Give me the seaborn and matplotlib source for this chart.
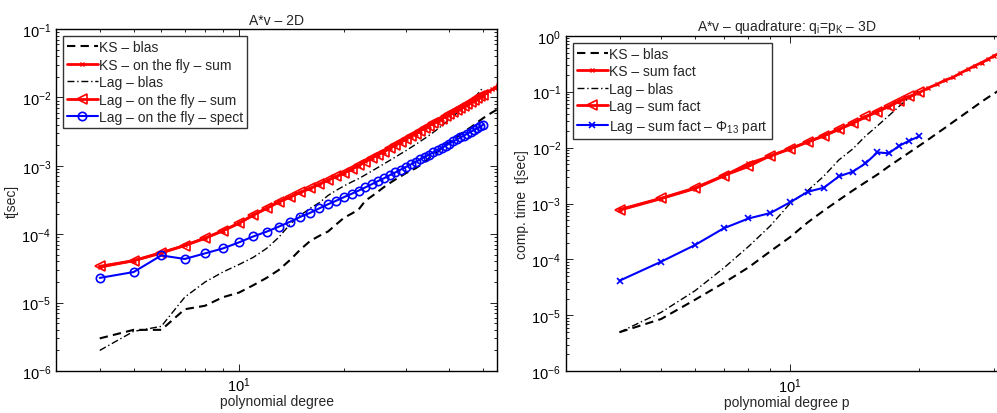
import numpy as np
import matplotlib
matplotlib.use("Agg")
import matplotlib.pyplot as plt
import matplotlib.ticker as mticker
import seaborn as sns

# --- left panel: A*v - 2D ---
deg_2d = list(range(4, 56))
ks_blas_2d = [3.0e-6, 4.0e-6, 4.0e-6, 8.0e-6, 9.0e-6, 1.2e-5, 1.4e-5, 1.8e-5, 2.3e-5, 3.0e-5,
              4.2e-5, 6.0e-5, 8.0e-5, 9.5e-5, 1.1e-4, 1.4e-4, 1.75e-4, 2.0e-4, 2.3e-4, 3.1e-4,
              3.6e-4, 4.2e-4, 4.9e-4, 5.6e-4, 6.3e-4, 7.0e-4, 7.8e-4, 8.5e-4, 9.2e-4, 1.02e-3,
              1.15e-3, 1.3e-3, 1.45e-3, 1.62e-3, 1.8e-3, 2.0e-3, 2.2e-3, 2.4e-3, 2.65e-3, 2.9e-3,
              3.15e-3, 3.4e-3, 3.65e-3, 3.95e-3, 4.3e-3, 4.65e-3, 5.0e-3, 5.35e-3, 5.7e-3, 6.05e-3,
              6.4e-3, 6.8e-3]
ks_fly_2d = [3.3e-5, 4.1e-5, 5.3e-5, 6.9e-5, 8.7e-5, 1.13e-4, 1.44e-4, 1.92e-4, 2.38e-4, 2.97e-4,
             3.48e-4, 4.12e-4, 4.68e-4, 5.42e-4, 6.18e-4, 7.03e-4, 7.88e-4, 8.93e-4, 1.01e-3, 1.16e-3,
             1.29e-3, 1.46e-3, 1.61e-3, 1.81e-3, 1.99e-3, 2.21e-3, 2.44e-3, 2.71e-3, 2.94e-3, 3.26e-3,
             3.54e-3, 3.87e-3, 4.18e-3, 4.57e-3, 4.88e-3, 5.32e-3, 5.68e-3, 6.12e-3, 6.58e-3, 7.12e-3,
             7.58e-3, 8.13e-3, 8.58e-3, 9.22e-3, 9.78e-3, 1.04e-2, 1.1e-2, 1.17e-2, 1.24e-2, 1.31e-2,
             1.39e-2, 1.5e-2]
deg_lag_2d = list(range(4, 51))
lag_blas_2d = [2.0e-6, 3.8e-6, 4.5e-6, 1.2e-5, 2.0e-5, 2.8e-5, 3.6e-5, 4.6e-5, 6.2e-5, 9.0e-5,
               1.4e-4, 1.9e-4, 2.4e-4, 2.9e-4, 3.7e-4, 4.4e-4, 5.1e-4, 5.8e-4, 6.5e-4, 7.4e-4,
               8.4e-4, 9.5e-4, 1.07e-3, 1.2e-3, 1.34e-3, 1.5e-3, 1.66e-3, 1.85e-3, 2.05e-3, 2.28e-3,
               2.52e-3, 2.8e-3, 3.1e-3, 3.45e-3, 3.85e-3, 4.3e-3, 4.8e-3, 5.3e-3, 5.9e-3, 6.5e-3,
               7.2e-3, 8.0e-3, 8.9e-3, 9.9e-3, 1.1e-2, 1.25e-2, 1.42e-2]
lag_fly_2d = [3.4e-5, 4.1e-5, 5.4e-5, 6.8e-5, 8.8e-5, 1.12e-4, 1.45e-4, 1.9e-4, 2.4e-4, 2.95e-4,
              3.5e-4, 4.1e-4, 4.7e-4, 5.4e-4, 6.2e-4, 7.0e-4, 7.9e-4, 8.9e-4, 1.02e-3, 1.15e-3,
              1.3e-3, 1.45e-3, 1.62e-3, 1.8e-3, 2.0e-3, 2.2e-3, 2.45e-3, 2.7e-3, 2.95e-3, 3.25e-3,
              3.55e-3, 3.85e-3, 4.2e-3, 4.55e-3, 4.9e-3, 5.3e-3, 5.7e-3, 6.1e-3, 6.6e-3, 7.1e-3,
              7.6e-3, 8.1e-3, 8.6e-3, 9.2e-3, 9.8e-3, 1.04e-2, 1.1e-2]
lag_spect_2d = [2.3e-5, 2.8e-5, 4.9e-5, 4.35e-5, 5.25e-5, 6.2e-5, 7.6e-5, 9.3e-5, 1.09e-4, 1.29e-4,
                1.52e-4, 1.8e-4, 2.06e-4, 2.4e-4, 2.75e-4, 3.1e-4, 3.5e-4, 3.9e-4, 4.35e-4, 4.85e-4,
                5.4e-4, 6.0e-4, 6.6e-4, 7.3e-4, 8.0e-4, 8.8e-4, 9.6e-4, 1.05e-3, 1.14e-3, 1.24e-3,
                1.35e-3, 1.46e-3, 1.58e-3, 1.7e-3, 1.83e-3, 1.97e-3, 2.12e-3, 2.27e-3, 2.43e-3, 2.6e-3,
                2.77e-3, 2.95e-3, 3.14e-3, 3.34e-3, 3.55e-3, 3.77e-3, 4.0e-3]

# --- right panel: A*v - quadrature - 3D ---
deg_3d = list(range(4, 33))
ks_blas_3d = [5.0e-6, 8.6e-6, 1.9e-5, 3.8e-5, 7.2e-5, 1.4e-4, 2.5e-4, 4.6e-4, 7.5e-4, 1.15e-3,
              1.7e-3, 2.4e-3, 3.3e-3, 4.6e-3, 6.2e-3, 8.2e-3, 1.07e-2, 1.38e-2, 1.78e-2, 2.25e-2,
              2.85e-2, 3.55e-2, 4.4e-2, 5.4e-2, 6.6e-2, 7.9e-2, 9.3e-2, 1.1e-1, 1.3e-1]
ks_sum_3d = [7.6e-4, 1.22e-3, 1.85e-3, 3.1e-3, 5.2e-3, 7.0e-3, 9.6e-3, 1.25e-2, 1.62e-2, 2.1e-2,
             2.7e-2, 3.5e-2, 4.4e-2, 5.4e-2, 6.7e-2, 8.0e-2, 9.6e-2, 0.116, 0.135, 0.16,
             0.18, 0.215, 0.25, 0.29, 0.33, 0.38, 0.44, 0.5, 0.57]
deg_lag_3d = list(range(4, 21))
lag_blas_3d = [5.0e-6, 1.13e-5, 2.75e-5, 7.0e-5, 1.7e-4, 4.0e-4, 1.0e-3, 1.7e-3, 3.1e-3, 6.0e-3,
               9.4e-3, 1.6e-2, 2.45e-2, 3.7e-2, 5.5e-2, 7.9e-2, 0.104]
lag_sum_3d = [7.8e-4, 1.24e-3, 1.9e-3, 3.15e-3, 4.6e-3, 7.2e-3, 9.4e-3, 1.27e-2, 1.63e-2, 2.15e-2,
              2.75e-2, 3.6e-2, 4.4e-2, 5.5e-2, 6.9e-2, 8.2e-2, 9.7e-2]
lag_phi13_3d = [4.17e-5, 9.1e-5, 1.81e-4, 3.6e-4, 5.4e-4, 6.76e-4, 1.05e-3, 1.62e-3, 1.92e-3, 3.05e-3,
                3.7e-3, 5.2e-3, 8.2e-3, 7.9e-3, 1.08e-2, 1.33e-2, 1.58e-2]

y_ticks_2d = [1e-6, 1e-5, 1e-4, 1e-3, 1e-2, 1e-1]
y_ticks_3d = [1e-6, 1e-5, 1e-4, 1e-3, 1e-2, 1e-1, 1e0]

sns.set_theme(style="ticks")
plt.rcParams['font.family'] = ['Liberation Sans', 'DejaVu Sans']
plt.rcParams['mathtext.fontset'] = 'custom'
plt.rcParams['mathtext.rm'] = 'Liberation Sans'
plt.rcParams['mathtext.it'] = 'Liberation Sans'

fig = plt.figure(figsize=(9.97, 4.14), dpi=100)
ax1 = fig.add_axes([0.0562, 0.1014, 0.4423, 0.826])
ax2 = fig.add_axes([0.5677, 0.1007, 0.4423, 0.8106])

DASH = (0, (4, 2.5))
DASHDOT = (0, (5, 2, 1, 2))


def draw(ax, x, y, **kw):
    sns.lineplot(x=x, y=y, ax=ax, estimator=None, sort=False, **kw)


# left
draw(ax1, deg_2d, ks_blas_2d, color="black", linestyle=DASH, linewidth=1.5, label="KS – blas")
draw(ax1, deg_2d, ks_fly_2d, color="red", linewidth=2, marker="x", markersize=3,
     markeredgecolor="red", markeredgewidth=1, label="KS – on the fly – sum")
draw(ax1, deg_lag_2d, lag_blas_2d, color="black", linestyle=DASHDOT, linewidth=1, label="Lag – blas")
draw(ax1, deg_lag_2d, lag_fly_2d, color="red", linewidth=2, marker="<", markersize=7,
     markeredgecolor="red", markerfacecolor="none", markeredgewidth=1.2, label="Lag – on the fly – sum")
draw(ax1, deg_lag_2d, lag_spect_2d, color="blue", linewidth=1.5, marker="o", markersize=6,
     markeredgecolor="blue", markerfacecolor="none", markeredgewidth=1.2, label="Lag – on the fly – spect")

# right
draw(ax2, deg_3d, ks_blas_3d, color="black", linestyle=DASH, linewidth=1.5, label="KS – blas")
draw(ax2, deg_3d, ks_sum_3d, color="red", linewidth=2, marker="x", markersize=3,
     markeredgecolor="red", markeredgewidth=1, label="KS – sum fact")
draw(ax2, deg_lag_3d, lag_blas_3d, color="black", linestyle=DASHDOT, linewidth=1, label="Lag – blas")
draw(ax2, deg_lag_3d, lag_sum_3d, color="red", linewidth=2, marker="<", markersize=7,
     markeredgecolor="red", markerfacecolor="none", markeredgewidth=1.2, label="Lag – sum fact")
draw(ax2, deg_lag_3d, lag_phi13_3d, color="blue", linewidth=1.5, marker="x", markersize=4,
     markeredgecolor="blue", markeredgewidth=1.2, label="Lag – sum fact – Φ$_{13}$ part")

for ax, xl, yt in [(ax1, (3, 54.7), y_ticks_2d), (ax2, (3, 32.1), y_ticks_3d)]:
    ax.set_xscale("log")
    ax.set_yscale("log")
    ax.set_xlim(*xl)
    ax.set_ylim(yt[0], yt[-1])
    ax.xaxis.set_major_locator(mticker.FixedLocator([10]))
    ax.xaxis.set_minor_locator(mticker.FixedLocator(
        [v for v in [4, 5, 6, 7, 8, 9, 20, 30, 40, 50] if xl[0] < v < xl[1]]))
    ax.xaxis.set_minor_formatter(mticker.NullFormatter())
    ax.yaxis.set_major_locator(mticker.FixedLocator(yt))
    ax.yaxis.set_minor_locator(mticker.LogLocator(base=10, subs=np.arange(2, 10), numticks=10))
    ax.yaxis.set_minor_formatter(mticker.NullFormatter())
    ax.tick_params(which="both", direction="in", top=True, right=True, labelsize=10.5,
                   colors="black", width=0.6)
    ax.tick_params(which="major", length=5)
    ax.tick_params(which="minor", length=2.5)
    for s in ax.spines.values():
        s.set_linewidth(1.0)
        s.set_color("black")
    leg = ax.legend(loc="upper left", fontsize=10, frameon=True, fancybox=False,
                    edgecolor="black", handlelength=2.2, handletextpad=0.1,
                    borderpad=0.3, labelspacing=0.25, borderaxespad=0.5)
    leg.get_frame().set_linewidth(1.0)

ax1.set_title("A*v – 2D", fontsize=10, pad=4)
ax1.set_xlabel("polynomial degree", fontsize=10, labelpad=0)
ax1.set_ylabel("t[sec]", fontsize=10, labelpad=2)

ax2.set_title("A*v – quadrature: q$_\\mathrm{i}$=p$_\\mathrm{K}$ – 3D", fontsize=10, pad=4)
ax2.set_xlabel("polynomial degree p", fontsize=10, labelpad=0)
ax2.set_ylabel("comp. time  t[sec]", fontsize=10, labelpad=2)

fig.savefig("out.png", dpi=100)
